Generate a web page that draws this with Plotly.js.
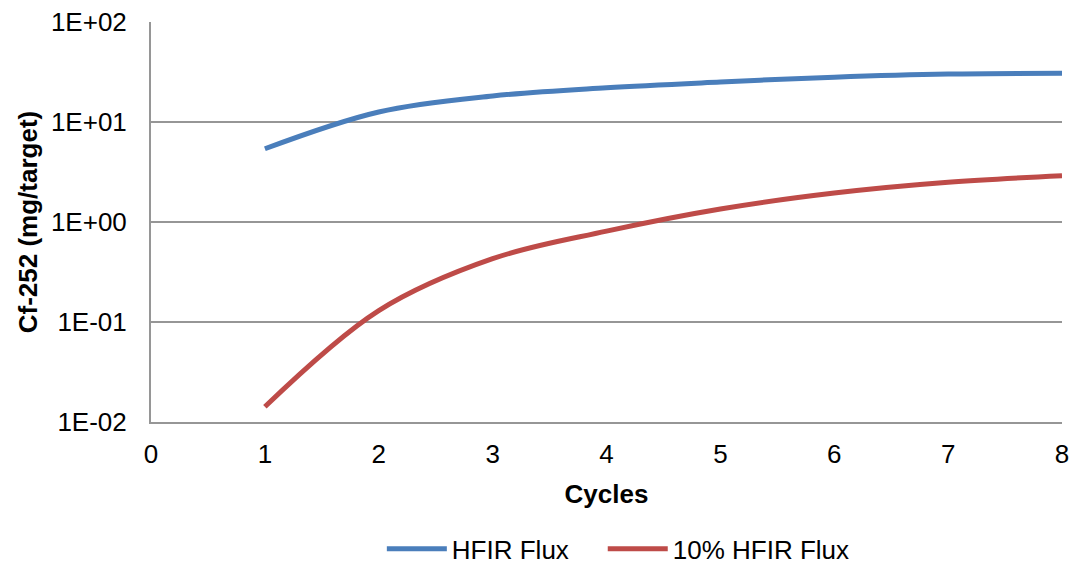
<!DOCTYPE html>
<html>
<head>
<meta charset="utf-8">
<script src="https://cdn.plot.ly/plotly-3.0.1.min.js"></script>
<style>html,body{margin:0;padding:0;background:#fff;}#chart{width:1069px;height:564px;}</style>
</head>
<body>
<div id="chart"></div>
<script>
var cycles = [1, 2, 3, 4, 5, 6, 7, 8];
var hfirFlux = [5.4, 12.6, 18.2, 22.0, 25.1, 28.1, 30.2, 30.7];
var hfir10Flux = [0.0142, 0.13, 0.43, 0.81, 1.35, 1.95, 2.5, 2.9];
var yTickVals = [0.01, 0.1, 1, 10, 100];
var yTickText = ['1E-02', '1E-01', '1E+00', '1E+01', '1E+02'];
var seriesNames = ['HFIR Flux\u00A0\u00A0\u00A0\u00A0', '10% HFIR Flux'];

var traces = [
  {x: cycles, y: hfirFlux, name: seriesNames[0], type: 'scatter', mode: 'lines',
   line: {color: '#4A7EBB', width: 5, shape: 'spline', smoothing: 1}},
  {x: cycles, y: hfir10Flux, name: seriesNames[1], type: 'scatter', mode: 'lines',
   line: {color: '#BE4B48', width: 5, shape: 'spline', smoothing: 1}}
];

var layout = {
  width: 1069, height: 564,
  margin: {l: 151, r: 7, t: 22, b: 142, autoexpand: false},
  paper_bgcolor: '#fff', plot_bgcolor: '#fff',
  font: {family: 'Liberation Sans, Arial, sans-serif', size: 26, color: '#000'},
  xaxis: {
    range: [0, 8], dtick: 1, tick0: 0, showgrid: false, zeroline: false,
    showline: true, linecolor: '#969696', linewidth: 2, ticks: '',
    ticklabelstandoff: 8, ticklabeloverflow: 'allow', automargin: false,
    tickfont: {size: 26},
    title: {text: '<b>Cycles</b>', font: {size: 26}, standoff: 17}
  },
  yaxis: {
    type: 'log', range: [-2, 2], tickvals: yTickVals, ticktext: yTickText,
    showgrid: true, gridcolor: '#969696', gridwidth: 2, zeroline: false,
    showline: true, linecolor: '#969696', linewidth: 2, ticks: '',
    ticklabelstandoff: 17, automargin: false,
    tickfont: {size: 26},
    title: {text: '<b>Cf-252 (mg/target)</b>', font: {size: 26}, standoff: 6}
  },
  showlegend: true,
  legend: {orientation: 'h', x: 0.513, xanchor: 'center', y: -0.317, yanchor: 'middle',
           font: {size: 26}, itemwidth: 60, tracegroupgap: 0}
};

Plotly.newPlot('chart', traces, layout, {displayModeBar: false, staticPlot: true});
</script>
</body>
</html>
